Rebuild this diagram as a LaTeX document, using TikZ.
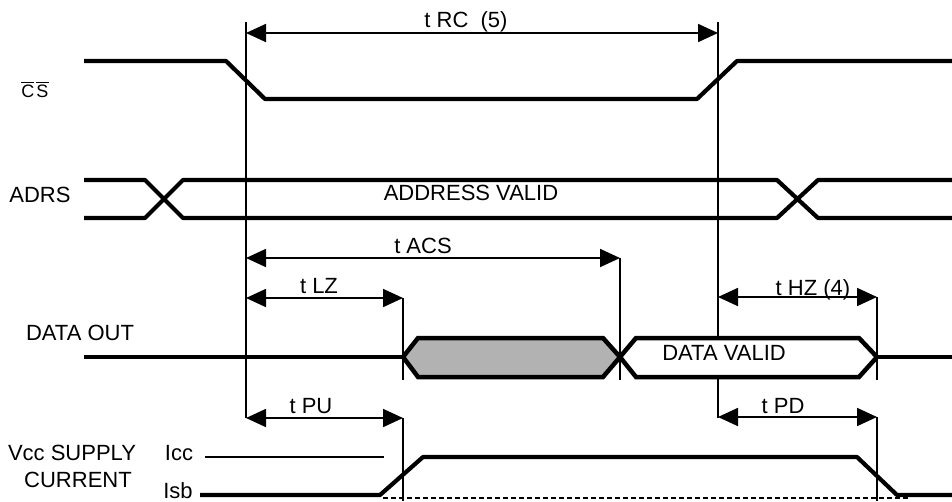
\documentclass[tikz,border=0pt]{standalone}
\usepackage{fontspec}
\setmainfont{Liberation Sans}
\usetikzlibrary{arrows.meta}
\newcommand{\ovl}[1]{\vbox{\hrule height 1.3pt\kern1.6pt\hbox{#1}}}
\begin{document}
\begin{tikzpicture}[x=1pt,y=-1pt,
  sig/.style={line width=4.2pt,line join=round},
  hexa/.style={line width=4.5pt,line join=miter},
  vline/.style={line width=2pt},
  dim/.style={line width=1.8pt,{Triangle[length=20pt,width=18pt]}-{Triangle[length=20pt,width=18pt]}},
  lbl/.style={font=\fontsize{22}{26}\selectfont,anchor=base,inner sep=0pt}]
\useasboundingbox (0,0) rectangle (952,501);
% vertical reference lines
\draw[vline] (246,22) coordinate (v1t) -- (246,418) coordinate (v1b);
\draw[vline] (718,22) coordinate (v2t) -- (718,418) coordinate (v2b);
\draw[vline] (403,298) coordinate (v3t) -- (403,380) coordinate (v3b);
\draw[vline] (403,418) coordinate (v4t) -- (403,501) coordinate (v4b);
\draw[vline] (620,258) coordinate (v5t) -- (620,380) coordinate (v5b);
\draw[vline] (877,297) coordinate (v6t) -- (877,380) coordinate (v6b);
\draw[vline] (877,417) coordinate (v7t) -- (877,501) coordinate (v7b);
% dimension arrows
\coordinate (rcL) at (246,33); \coordinate (rcR) at (718,33);
\coordinate (acsL) at (246,258);
\coordinate (lzL) at (246,298);
\coordinate (hzL) at (718,297);
\coordinate (puL) at (246,418);
\coordinate (pdL) at (718,417);
\draw[dim] (rcL) -- (rcR);
\draw[dim] (acsL) -- (v5t);
\draw[dim] (lzL) -- (v3t);
\draw[dim] (hzL) -- (v6t);
\draw[dim] (puL) -- (v4t);
\draw[dim] (pdL) -- (v7t);
\node[lbl] (trc) at (466,27) {t RC\ \ (5)};
\node[lbl] (tacs) at (423,253) {t ACS};
\node[lbl] (tlz) at (319,293) {t LZ};
\node[lbl] (thz) at (813,295) {t HZ (4)};
\node[lbl] (tpu) at (311,413) {t PU};
\node[lbl] (tpd) at (783,413) {t PD};
% CS
\draw[sig] (84,61) -- (226,61) -- (265,99) -- (697,99) -- (737,61) -- (952,61);
\node[lbl] (cs) at (35,97) {\fontsize{18}{21}\selectfont\ovl{C}\kern2pt\ovl{S}};
% ADRS
\draw[sig] (84,180) -- (145,180) -- (183,218) -- (777,218) -- (818,180) -- (952,180);
\draw[sig] (84,218) -- (145,218) -- (183,180) -- (777,180) -- (818,218) -- (952,218);
\node[lbl] (adrs) at (40,202) {ADRS};
\node[lbl] (av) at (471,200) {ADDRESS VALID};
% DATA OUT
\draw[sig] (84,357) -- (403,357);
\draw[hexa,fill=black!30] (403,357) -- (418,338) -- (603,338) -- (620,357) -- (603,377) -- (418,377) -- cycle;
\draw[hexa,fill=white] (620,357) -- (636,338) -- (859,338) -- (877,357) -- (859,377) -- (636,377) -- cycle;
\draw[sig] (877,357) -- (952,357);
\node[lbl] (dout) at (80,340) {DATA OUT};
\node[lbl] (dv) at (724,360) {DATA VALID};
% supply current
\draw[line width=2pt] (205,457) -- (384,457);
\draw[line width=2.2pt,dash pattern=on 5pt off 3pt] (383,498) -- (910,498);
\draw[sig] (200,495) -- (380,495) -- (423,457) -- (857,457) -- (897,495) -- (952,495);
\node[lbl] (vcc) at (72,460) {Vcc SUPPLY};
\node[lbl] (cur) at (78,487) {CURRENT};
\node[lbl] (icc) at (179,460) {Icc};
\node[lbl] (isb) at (178,498) {Isb};
\end{tikzpicture}
\end{document}
